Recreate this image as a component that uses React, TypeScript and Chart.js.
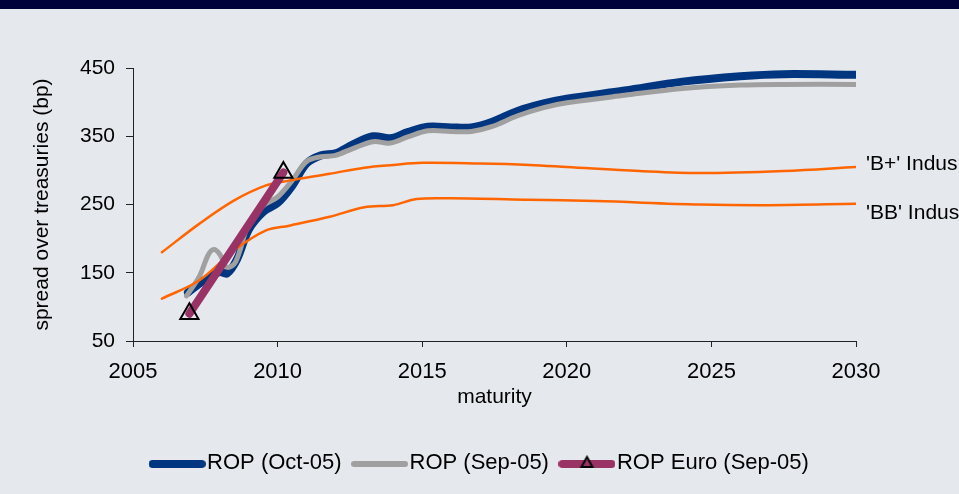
import React, { useEffect, useRef } from "react";
import { Chart, registerables } from "chart.js";

Chart.register(...registerables);

// ---- data ----
const xTicks = [2005, 2010, 2015, 2020, 2025, 2030];
const yTicks = [50, 150, 250, 350, 450];

const ropOctX = [2006.9, 2007.4, 2008.0, 2008.25, 2008.6, 2009.0, 2009.5, 2010.0, 2010.5, 2011.0, 2011.5, 2012.0, 2012.6, 2013.3, 2013.9, 2014.5, 2015.2, 2016.0, 2016.7, 2017.4, 2018.3, 2019.2, 2020.0, 2022.0, 2024.0, 2026.0, 2027.5, 2030.0];
const ropOctY = [121, 137, 151, 149, 170, 213, 239, 252, 277, 310, 322, 325, 338, 350, 347, 356, 364, 363, 363, 371, 387, 398, 405, 417, 430, 438, 441, 440];

const ropSepX = [2006.85, 2007.3, 2007.6, 2007.8, 2008.0, 2008.25, 2008.55, 2009.0, 2009.5, 2010.0, 2010.5, 2011.0, 2011.5, 2012.0, 2012.6, 2013.3, 2013.9, 2014.5, 2015.2, 2016.0, 2016.7, 2017.4, 2018.3, 2019.2, 2020.0, 2022.0, 2024.0, 2026.0, 2027.5, 2030.0];
const ropSepY = [116, 145, 176, 184, 177, 158, 166, 222, 248, 261, 285, 313, 320, 322, 332, 342, 340, 349, 358, 357, 357, 364, 380, 392, 399, 410, 420, 425, 426, 426];

const ropEuroX = [2006.95, 2010.2];
const ropEuroY = [90, 297];

const bPlusX = [2006.0, 2007.3, 2008.5, 2009.6, 2010.4, 2011.8, 2013.0, 2014.0, 2015.0, 2017.0, 2018.7, 2020.0, 2022.5, 2024.6, 2027.5, 2030.0];
const bPlusY = [180, 222, 256, 278, 285, 295, 304, 308, 311, 310, 308, 305, 299, 296, 299, 305];

const bbX = [2006.0, 2007.3, 2008.5, 2009.6, 2010.4, 2011.8, 2013.0, 2014.0, 2014.8, 2016.0, 2018.7, 2021.0, 2024.6, 2027.0, 2030.0];
const bbY = [112, 139, 183, 212, 219, 232, 246, 249, 258, 259, 257, 255, 250, 249, 251];

const seriesNames = ["ROP (Oct-05)", "ROP (Sep-05)", "ROP Euro (Sep-05)", "'B+' Indus", "'BB' Indus"];
const endLabels = ["", "", "", "'B+' Indus", "'BB' Indus"];

const FONT = "'Liberation Sans', Arial, Helvetica, sans-serif";
const BLUE = "#00357F";
const GRAY = "#A0A0A0";
const EURO = "#993366";
const ORANGE = "#FF6600";

const pts = (xs: number[], ys: number[]) => xs.map((x, i) => ({ x, y: ys[i] }));

function legendSample(color: string, lw: number, triangle: boolean): HTMLCanvasElement {
  const c = document.createElement("canvas");
  c.width = 57;
  c.height = 16;
  const ctx = c.getContext("2d")!;
  ctx.lineCap = "round";
  ctx.strokeStyle = color;
  ctx.lineWidth = lw;
  ctx.beginPath();
  ctx.moveTo(lw / 2, 9);
  ctx.lineTo(57 - lw / 2, 9);
  ctx.stroke();
  if (triangle) {
    ctx.lineCap = "butt";
    ctx.lineJoin = "miter";
    ctx.strokeStyle = "#000";
    ctx.lineWidth = 2;
    ctx.beginPath();
    ctx.moveTo(28.5, 2);
    ctx.lineTo(34, 12);
    ctx.lineTo(23, 12);
    ctx.closePath();
    ctx.stroke();
  }
  return c;
}

const endLabelPlugin = {
  id: "endLabels",
  afterDatasetsDraw(chart: any) {
    const ctx = chart.ctx;
    const xs = chart.scales.x;
    const ys = chart.scales.y;
    const offsets: Record<number, number> = { 3: -3, 4: 9 };
    chart.data.datasets.forEach((ds: any, i: number) => {
      const label = endLabels[i];
      if (!label) return;
      const last = ds.data[ds.data.length - 1];
      const px = xs.getPixelForValue(last.x) + 10;
      const py = ys.getPixelForValue(last.y) + (offsets[i] || 0);
      ctx.save();
      ctx.font = `21px ${FONT}`;
      ctx.fillStyle = "#000";
      ctx.textAlign = "left";
      ctx.textBaseline = "middle";
      ctx.fillText(label, px, py);
      ctx.restore();
    });
  },
};

export default function App() {
  const ref = useRef<HTMLCanvasElement>(null);

  useEffect(() => {
    if (!ref.current) return;
    const samples = [
      legendSample(BLUE, 8, false),
      legendSample(GRAY, 6, false),
      legendSample(EURO, 8, true),
    ];
    const common = {
      showLine: true,
      pointRadius: 0,
      pointHoverRadius: 0,
      borderCapStyle: "round" as const,
      borderJoinStyle: "round" as const,
      tension: 0.35,
      fill: false,
    };
    const chart = new Chart(ref.current, {
      type: "scatter",
      data: {
        datasets: [
          { ...common, label: seriesNames[0], data: pts(ropOctX, ropOctY), borderColor: BLUE, backgroundColor: BLUE, borderWidth: 8, order: 3 },
          { ...common, label: seriesNames[1], data: pts(ropSepX, ropSepY), borderColor: GRAY, backgroundColor: GRAY, borderWidth: 5, order: 2 },
          {
            ...common,
            label: seriesNames[2],
            data: pts(ropEuroX, ropEuroY),
            borderColor: EURO,
            backgroundColor: EURO,
            borderWidth: 8,
            tension: 0,
            pointStyle: "triangle",
            pointRadius: 10.5,
            pointBorderColor: "#000",
            pointBorderWidth: 2,
            pointBackgroundColor: "rgba(0,0,0,0)",
            order: 0,
          },
          { ...common, label: seriesNames[3], data: pts(bPlusX, bPlusY), borderColor: ORANGE, backgroundColor: ORANGE, borderWidth: 2.5, order: 1 },
          { ...common, label: seriesNames[4], data: pts(bbX, bbY), borderColor: ORANGE, backgroundColor: ORANGE, borderWidth: 2.5, order: 1 },
        ],
      },
      options: {
        animation: false,
        responsive: false,
        maintainAspectRatio: false,
        devicePixelRatio: 1,
        layout: { padding: { left: 8, right: 0, top: 68, bottom: 10 } },
        plugins: {
          tooltip: { enabled: false },
          legend: {
            display: true,
            position: "bottom",
            labels: {
              usePointStyle: true,
              pointStyleWidth: 38,
              padding: 19,
              color: "#000",
              font: { size: 22, family: FONT },
              generateLabels: (ch: any) => {
                const items = Chart.defaults.plugins.legend.labels.generateLabels(ch);
                return items
                  .filter((it: any) => it.datasetIndex <= 2)
                  .sort((a: any, b: any) => a.datasetIndex - b.datasetIndex)
                  .map((it: any) => ({ ...it, pointStyle: samples[it.datasetIndex], lineWidth: 0 }));
              },
            },
          },
        },
        scales: {
          x: {
            type: "linear",
            min: 2005,
            max: 2030,
            afterBuildTicks: (s: any) => {
              s.ticks = xTicks.map((v) => ({ value: v }));
            },
            afterFit: (s: any) => {
              s.height = 92;
            },
            ticks: {
              color: "#000",
              font: { size: 22, family: FONT },
              padding: 12,
              maxRotation: 0,
              autoSkip: false,
              callback: (v: any) => String(v),
            },
            grid: { drawOnChartArea: false, drawTicks: true, tickLength: 6, color: "#222", lineWidth: 1 },
            border: { display: true, color: "#222", width: 1 },
            title: {
              display: true,
              text: "maturity",
              color: "#000",
              font: { size: 21, family: FONT },
              padding: { top: 0, bottom: 23.4 },
            },
          },
          y: {
            type: "linear",
            min: 50,
            max: 450,
            afterBuildTicks: (s: any) => {
              s.ticks = yTicks.map((v) => ({ value: v }));
            },
            afterFit: (s: any) => {
              s.width = 125;
            },
            ticks: {
              color: "#000",
              font: { size: 21, family: FONT },
              padding: 11,
              callback: (v: any) => String(v),
            },
            grid: { drawOnChartArea: false, drawTicks: true, tickLength: 7, color: "#222", lineWidth: 1 },
            border: { display: true, color: "#222", width: 1 },
            title: {
              display: true,
              text: "spread over treasuries (bp)",
              color: "#000",
              font: { size: 21, family: FONT },
              padding: { top: 21.4, bottom: 0 },
            },
          },
          yRightSpace: {
            type: "linear",
            position: "right",
            display: true,
            min: 0,
            max: 1,
            afterFit: (s: any) => {
              s.width = 103;
            },
            ticks: { display: false },
            grid: { display: false, drawTicks: false },
            border: { display: false },
            title: { display: false },
          },
        },
      },
      plugins: [endLabelPlugin],
    } as any);
    return () => chart.destroy();
  }, []);

  return (
    <div style={{ position: "fixed", left: 0, top: 0, width: 959, height: 494, background: "#E5E8ED", overflow: "hidden" }}>
      <canvas ref={ref} width={959} height={494} style={{ display: "block", position: "absolute", left: 0, top: 0 }} />
      <div style={{ position: "absolute", left: 0, top: 0, width: 959, height: 9, background: "#00003A" }} />
    </div>
  );
}
